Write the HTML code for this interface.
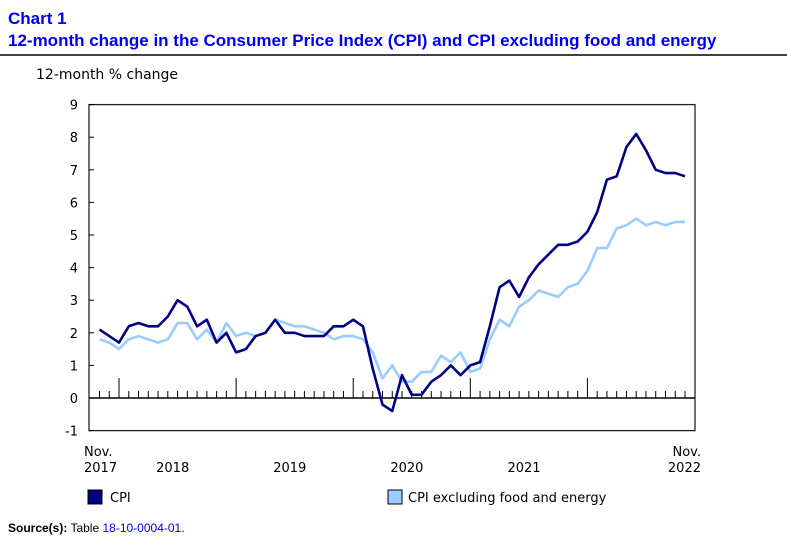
<!DOCTYPE html>
<html><head><meta charset="utf-8"><style>
body{margin:0;background:#fff;font-family:"DejaVu Sans","Liberation Sans",sans-serif;}
#wrap{position:relative;width:787px;height:539px;overflow:hidden}
</style></head><body>
<div id="wrap">
<svg id="svg" width="787" height="539" xmlns="http://www.w3.org/2000/svg">
<text x="8" y="24" font-family="Liberation Sans, sans-serif" font-weight="bold" font-size="17" fill="#0000ee">Chart 1</text>
<text x="8" y="46" font-family="Liberation Sans, sans-serif" font-weight="bold" font-size="17" fill="#0000ee">12-month change in the Consumer Price Index (CPI) and CPI excluding food and energy</text>
<line x1="0" y1="55" x2="787" y2="55" stroke="#000" stroke-width="1.5"/>
<text x="36" y="79" font-size="14" fill="#000">12-month % change</text>
<g id="axes"></g>
<g id="series"></g>
<rect x="88" y="490" width="14" height="14" fill="#000080" stroke="#000"/>
<text x="110" y="502" font-size="13">CPI</text>
<rect x="388" y="490" width="14" height="14" fill="#99ccff" stroke="#000"/>
<text x="408" y="502" font-size="13">CPI excluding food and energy</text>
<text x="8" y="532" font-family="Liberation Sans, sans-serif" font-size="12"><tspan font-weight="bold">Source(s):</tspan> Table <tspan fill="#0000ee">18-10-0004-01</tspan>.</text>
</svg>
</div>
<script>
const cpi=[2.1,1.9,
1.7,2.2,2.3,2.2,2.2,2.5,3.0,2.8,2.2,2.4,1.7,2.0,
1.4,1.5,1.9,2.0,2.4,2.0,2.0,1.9,1.9,1.9,2.2,2.2,
2.4,2.2,0.9,-0.2,-0.4,0.7,0.1,0.1,0.5,0.7,1.0,0.7,
1.0,1.1,2.2,3.4,3.6,3.1,3.7,4.1,4.4,4.7,4.7,4.8,
5.1,5.7,6.7,6.8,7.7,8.1,7.6,7.0,6.9,6.9,6.8];
const core=[1.8,1.7,
1.5,1.8,1.9,1.8,1.7,1.8,2.3,2.3,1.8,2.1,1.7,2.3,
1.9,2.0,1.9,2.0,2.4,2.3,2.2,2.2,2.1,2.0,1.8,1.9,
1.9,1.8,1.4,0.6,1.0,0.5,0.5,0.8,0.8,1.3,1.1,1.4,
0.8,0.9,1.8,2.4,2.2,2.8,3.0,3.3,3.2,3.1,3.4,3.5,
3.9,4.6,4.6,5.2,5.3,5.5,5.3,5.4,5.3,5.4,5.4];
const yTicks=[-1,0,1,2,3,4,5,6,7,8,9];
const yearLabels=["2018","2019","2020","2021"];
const NS="http://www.w3.org/2000/svg";
const x=i=>99.5+i*(585.5/60);
const y=v=>398-v*32.6;
function mk(tag,attrs,parent){const e=document.createElementNS(NS,tag);for(const k in attrs)e.setAttribute(k,attrs[k]);parent.appendChild(e);return e;}
const ax=document.getElementById('axes');
let e=mk('rect',{x:89,y:y(9),width:606,height:y(-1)-y(9),fill:'none',stroke:'#222','stroke-width':1.3},ax);


yTicks.forEach(t=>{
 const l=mk('text',{x:78,y:y(t)+5,'text-anchor':'end','font-size':13},ax);l.textContent=t;
 
 
 const k=mk('line',{x1:89,x2:94,y1:y(t),y2:y(t),stroke:'#000'},ax);
 
 
});
e=mk('line',{x1:89,y1:398,x2:695,y2:398,stroke:'#000','stroke-width':1.5},ax);


for(let i=0;i<cpi.length;i++){
 const major=(i-2)%12===0;
 const t=mk('line',{x1:x(i),x2:x(i),y1:major?378:391,y2:398,stroke:'#000'},ax);
 
 
}
function lbl(txt,xx,yy,anchor){const t=mk('text',{x:xx,y:yy,'text-anchor':anchor,'font-size':13},ax);t.textContent=txt;
 
 }
lbl("Nov.",84,456,'start');lbl("2017",84,472,'start');
yearLabels.forEach((yr,k)=>lbl(yr,x(2+12*k+5.5),472,'middle'));
lbl("Nov.",701,456,'end');lbl("2022",701,472,'end');
const sg=document.getElementById('series');
function line(data,color,name){const p=mk('polyline',{points:data.map((v,i)=>x(i)+','+y(v)).join(' '),fill:'none',stroke:color,'stroke-width':2.6,'stroke-linejoin':'round'},sg);
 
 }
line(core,'#99ccff','core-cpi-line');
line(cpi,'#000080','cpi-line');
</script>
</body></html>
